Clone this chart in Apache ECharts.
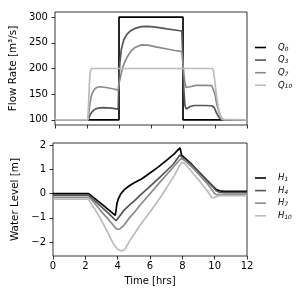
<!DOCTYPE html>
<html><head><meta charset="utf-8">
<script src="https://cdn.jsdelivr.net/npm/echarts@6/dist/echarts.min.js"></script>
<style>html,body{margin:0;padding:0;background:#fff}#c{width:300px;height:300px}</style>
</head><body><div id="c"></div>
<script>
// ---- Data ----
const xTicks = [0, 2, 4, 6, 8, 10, 12];
const flowTicks = [100, 150, 200, 250, 300];
const levelTicks = [-2, -1, 0, 1, 2];

const q0T = [0, 4, 4, 8, 8, 12];
const q0V = [100, 100, 300, 300, 100, 100];

const q3T = [0, 2.05, 2.12, 2.2, 2.3, 2.45, 2.6, 2.8, 3.0, 3.5, 3.95, 4.0, 4.05, 4.15, 4.3, 4.5, 4.75, 5.0, 5.4, 5.8, 6.3, 7.0, 7.6, 7.93, 7.98, 8.05, 8.12, 8.2, 8.3, 8.45, 8.7, 9.3, 9.8, 9.95, 10.1, 10.25, 10.4, 10.55, 12];
const q3V = [100, 100, 104, 110, 115, 119.5, 122, 123.5, 124, 123, 121, 180, 210, 238, 256, 267, 274, 278, 281.5, 282, 280.5, 277, 274.5, 273, 230, 160, 128, 121, 122, 126, 128, 128, 127.5, 124, 113, 105, 101, 100, 100];

const q7T = [0, 2.05, 2.12, 2.2, 2.3, 2.45, 2.6, 2.8, 3.2, 3.6, 3.95, 4.0, 4.1, 4.25, 4.5, 4.75, 5.0, 5.4, 5.8, 6.3, 7.0, 7.5, 7.93, 7.98, 8.05, 8.12, 8.2, 8.3, 8.45, 8.8, 9.4, 9.8, 9.9, 10.0, 10.1, 10.25, 10.4, 10.55, 12];
const q7V = [100, 100, 115, 135, 150, 159, 163, 164.5, 163, 160.5, 158, 170, 185, 204, 222, 234, 241, 246, 245.5, 242, 238, 235, 233, 215, 190, 172, 163, 162, 164.5, 167, 167, 166.5, 163, 150, 132, 115, 104, 100, 100];

const q10T = [0, 2.05, 2.1, 2.15, 2.2, 2.27, 9.85, 9.9, 9.97, 10.05, 10.15, 10.25, 10.35, 10.45, 10.55, 12];
const q10V = [100, 100, 130, 170, 192, 200, 200, 195, 180, 158, 135, 117, 106, 101, 100, 100];

const h1T = [0, 2.2, 2.4, 3.0, 3.5, 3.85, 3.9, 3.95, 4.05, 4.2, 4.4, 4.7, 5.0, 5.5, 6.0, 6.5, 7.0, 7.5, 7.85, 7.9, 7.95, 8.2, 8.6, 9.0, 9.5, 9.9, 10.1, 10.3, 10.6, 12];
const h1V = [0, 0, -0.1, -0.42, -0.7, -0.9, -0.7, -0.42, -0.2, 0.0, 0.16, 0.32, 0.44, 0.62, 0.86, 1.1, 1.37, 1.65, 1.9, 1.78, 1.6, 1.45, 1.2, 0.92, 0.57, 0.3, 0.17, 0.12, 0.1, 0.1];

const h4T = [0, 2.2, 2.4, 3.0, 3.5, 3.9, 4.0, 4.15, 4.4, 4.76, 5.0, 5.38, 6.0, 6.62, 7.0, 7.44, 7.85, 7.92, 8.0, 8.2, 8.6, 9.0, 9.5, 9.9, 10.1, 10.3, 10.6, 12];
const h4V = [-0.06, -0.06, -0.18, -0.55, -0.86, -1.12, -1.08, -0.9, -0.68, -0.45, -0.32, -0.07, 0.3, 0.69, 0.93, 1.22, 1.6, 1.62, 1.5, 1.4, 1.17, 0.9, 0.55, 0.28, 0.12, 0.06, 0.05, 0.05];

const h7T = [0, 2.2, 2.35, 2.7, 3.0, 3.32, 3.6, 3.84, 4.0, 4.15, 4.4, 4.76, 5.0, 5.38, 6.0, 6.62, 7.2, 7.6, 7.9, 7.97, 8.1, 8.6, 9.0, 9.5, 9.85, 10.0, 10.15, 10.4, 10.7, 12];
const h7V = [-0.15, -0.15, -0.22, -0.5, -0.75, -0.98, -1.2, -1.4, -1.48, -1.45, -1.3, -0.97, -0.8, -0.48, 0.0, 0.48, 0.92, 1.22, 1.45, 1.48, 1.4, 1.1, 0.82, 0.45, 0.15, 0.0, -0.04, -0.03, -0.02, -0.02];

const h10T = [0, 2.2, 2.3, 2.6, 2.9, 3.32, 3.73, 4.0, 4.25, 4.45, 4.76, 5.0, 5.38, 6.0, 6.62, 7.03, 7.5, 7.85, 7.97, 8.1, 8.6, 9.0, 9.5, 9.85, 9.95, 10.1, 10.3, 10.6, 12];
const h10V = [-0.23, -0.23, -0.35, -0.65, -0.99, -1.52, -2.07, -2.3, -2.37, -2.3, -1.93, -1.7, -1.31, -0.76, -0.18, 0.25, 0.75, 1.18, 1.3, 1.28, 0.9, 0.58, 0.15, -0.18, -0.2, -0.12, -0.07, -0.08, -0.08];

const flowNames = ['Q_0', 'Q_3', 'Q_7', 'Q_10'];
const levelNames = ['H_1', 'H_4', 'H_7', 'H_10'];
const colors = ['#000000', '#555555', '#8a8a8a', '#bbbbbb'];

// ---- Build ----
const pairs = (t, v) => t.map((x, i) => [x, v[i]]);
const font = 'DejaVu Sans';
const flowData = [pairs(q0T, q0V), pairs(q3T, q3V), pairs(q7T, q7V), pairs(q10T, q10V)];
const levelData = [pairs(h1T, h1V), pairs(h4T, h4V), pairs(h7T, h7V), pairs(h10T, h10V)];

function xAxisCfg(gi, showLabels) {
  return {
    type: 'value', gridIndex: gi, min: 0, max: 12, interval: 2,
    axisLine: { show: false, onZero: false },
    axisTick: { show: true, inside: false, length: 3.5, lineStyle: { color: '#000', width: 0.8 } },
    axisLabel: { show: showLabels, margin: 5, color: '#000', fontFamily: font, fontSize: 10 },
    splitLine: { show: false },
    name: showLabels ? 'Time [hrs]' : '', nameLocation: 'middle', nameGap: 20,
    nameTextStyle: { color: '#000', fontFamily: font, fontSize: 10 }
  };
}
function yAxisCfg(gi, min, max, ticks, name, gap) {
  return {
    type: 'value', gridIndex: gi, min: min, max: max,
    axisLine: { show: false, onZero: false },
    axisTick: { show: true, inside: false, length: 3.5, lineStyle: { color: '#000', width: 0.8 }, customValues: ticks },
    axisLabel: {
      margin: 7, color: '#000', fontFamily: font, fontSize: 10, customValues: ticks,
      formatter: v => (v < 0 ? '\u2212' + Math.abs(v) : String(v))
    },
    splitLine: { show: false },
    name: name, nameLocation: 'middle', nameGap: gap,
    nameTextStyle: { color: '#000', fontFamily: font, fontSize: 10.4 }
  };
}
const legendRich = {
  i: { fontStyle: 'italic', fontSize: 8.5, fontFamily: font, color: '#000', lineHeight: 10 },
  s: { fontStyle: 'italic', fontSize: 5.8, fontFamily: font, color: '#000', lineHeight: 10, padding: [3, 0, 0, 0] }
};
function legendCfg(names, top) {
  return {
    data: names, orient: 'vertical', left: 255, top: top,
    icon: 'rect', itemWidth: 11, itemHeight: 1.6, itemGap: 3.6,
    padding: 0,
    formatter: n => { const p = n.split('_'); return '{i|' + p[0] + '}{s|' + p[1] + '}'; },
    textStyle: { rich: legendRich, padding: [0, 0, 0, 7] }
  };
}

const series = [];
flowNames.forEach((n, i) => series.push({
  name: n, type: 'line', xAxisIndex: 0, yAxisIndex: 0, data: flowData[i],
  symbol: 'none', lineStyle: { color: colors[i], width: 1.7 }, itemStyle: { color: colors[i] },
  animation: false
}));
levelNames.forEach((n, i) => series.push({
  name: n, type: 'line', xAxisIndex: 1, yAxisIndex: 1, data: levelData[i],
  symbol: 'none', lineStyle: { color: colors[i], width: 1.7 }, itemStyle: { color: colors[i] },
  animation: false
}));

const chart = echarts.init(document.getElementById('c'), null, { renderer: 'canvas' });
chart.setOption({
  animation: false,
  backgroundColor: '#fff',
  grid: [
    { left: 53, top: 12, width: 194, height: 113, show: true, borderColor: '#000', borderWidth: 0.8, backgroundColor: 'transparent' },
    { left: 53, top: 143, width: 194, height: 113, show: true, borderColor: '#000', borderWidth: 0.8, backgroundColor: 'transparent' }
  ],
  xAxis: [xAxisCfg(0, false), xAxisCfg(1, true)],
  yAxis: [
    yAxisCfg(0, 90, 310, flowTicks, 'Flow Rate [m\u00b3/s]', 32),
    yAxisCfg(1, -2.58, 2.1, levelTicks, 'Water Level [m]', 27)
  ],
  legend: [legendCfg(flowNames, 43), legendCfg(levelNames, 173.5)],
  series: series
});
</script></body></html>
